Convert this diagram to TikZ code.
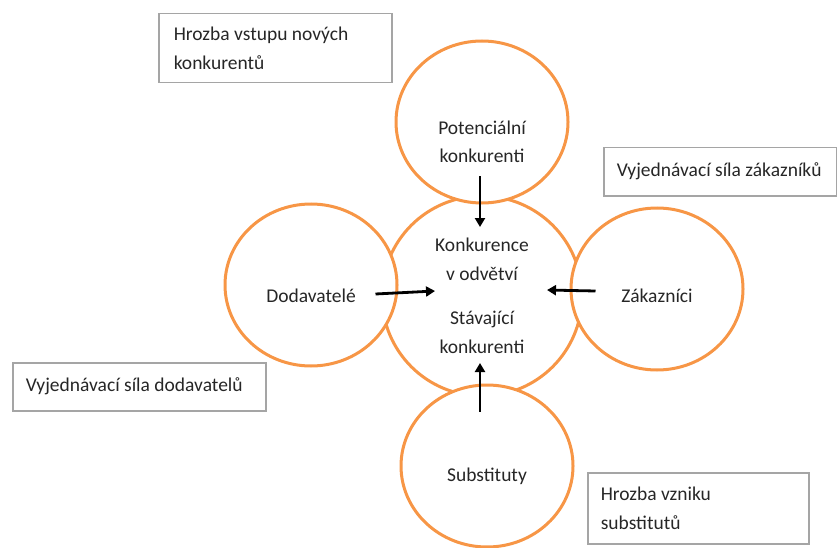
\documentclass[tikz,border=0pt]{standalone}
\usepackage{fontspec}
\setmainfont{Carlito}
\usepackage{tikz}
\usetikzlibrary{arrows.meta, positioning, shapes.geometric}

\definecolor{circorange}{HTML}{F79646}
\definecolor{boxgray}{HTML}{A5A5A5}
\definecolor{txtgray}{HTML}{262626}

\begin{document}
\begin{tikzpicture}[x=1pt, y=-1pt, on grid, text=txtgray,
        font=\fontsize{19.5}{28.5}\selectfont,
        force/.style={ellipse, draw=circorange, line width=3pt, fill=white,
                minimum width=172pt, minimum height=162pt, inner sep=0pt},
        forcetext/.style={align=flush center, inner sep=0pt},
        forcebox/.style={rectangle, draw=boxgray, line width=1.5pt, align=flush left,
                anchor=north west, inner xsep=13pt, inner ysep=0pt},
        push/.style={line width=2.8pt, -{Triangle[length=9pt, width=10pt]}}]
        \useasboundingbox (0,0) rectangle (837,548);
        % popisky sil
        \node[forcebox, text width=203pt, minimum height=69pt, inner xsep=15pt] (hrozbaVstupu) at (158,13) {Hrozba vstupu nových\\konkurentů};
        \node[forcebox, text width=211pt, minimum height=48pt, inner xsep=11pt] (silaZakazniku) at (603,147) {\hspace{2pt}Vyjednávací síla zákazníků};
        \node[forcebox, text width=227pt, minimum height=48pt] (silaDodavatelu) at (12,362) {Vyjednávací síla dodavatelů};
        \node[forcebox, text width=195pt, minimum height=71pt] (hrozbaSubstitutu) at (587,472) {Hrozba vzniku\\substitutů};
        % kruhy
        \node[force, minimum width=200pt, minimum height=200pt, align=flush center] (konk) at (482,296) {Konkurence\\v odvětví\\[16pt]Stávající\\konkurenti};
        \node[force] (pot) [above=174pt of konk] {};
        \node[force] (dod) [left=171pt of konk, yshift=11pt] {};
        \node[force] (zak) [right=175pt of konk, yshift=7pt] {};
        \node[force] (sub) [below=170pt of konk, xshift=5pt] {};
        \node[forcetext] (potText) [below=20pt of pot] {Potenciální\\konkurenti};
        \node[forcetext] (dodText) [below=11pt of dod] {Dodavatelé};
        \node[forcetext] (zakText) [below=7pt of zak] {Zákazníci};
        \node[forcetext] (subText) [below=10pt of sub] {Substituty};
        % sipky
        \draw[push] ([xshift=-2pt, yshift=28pt]pot.south) -- ([xshift=-2pt, yshift=69pt]konk.center);
        \draw[push] ([xshift=-23pt, yshift=-9pt]dod.east) -- ([xshift=-47pt, yshift=5pt]konk.center);
        \draw[push] ([xshift=26pt, yshift=-2pt]zak.west) -- ([xshift=65pt, yshift=6pt]konk.center);
        \draw[push] ([xshift=-7pt, yshift=-28pt]sub.north) -- ([xshift=-2pt, yshift=-67pt]konk.center);
\end{tikzpicture}
\end{document}
